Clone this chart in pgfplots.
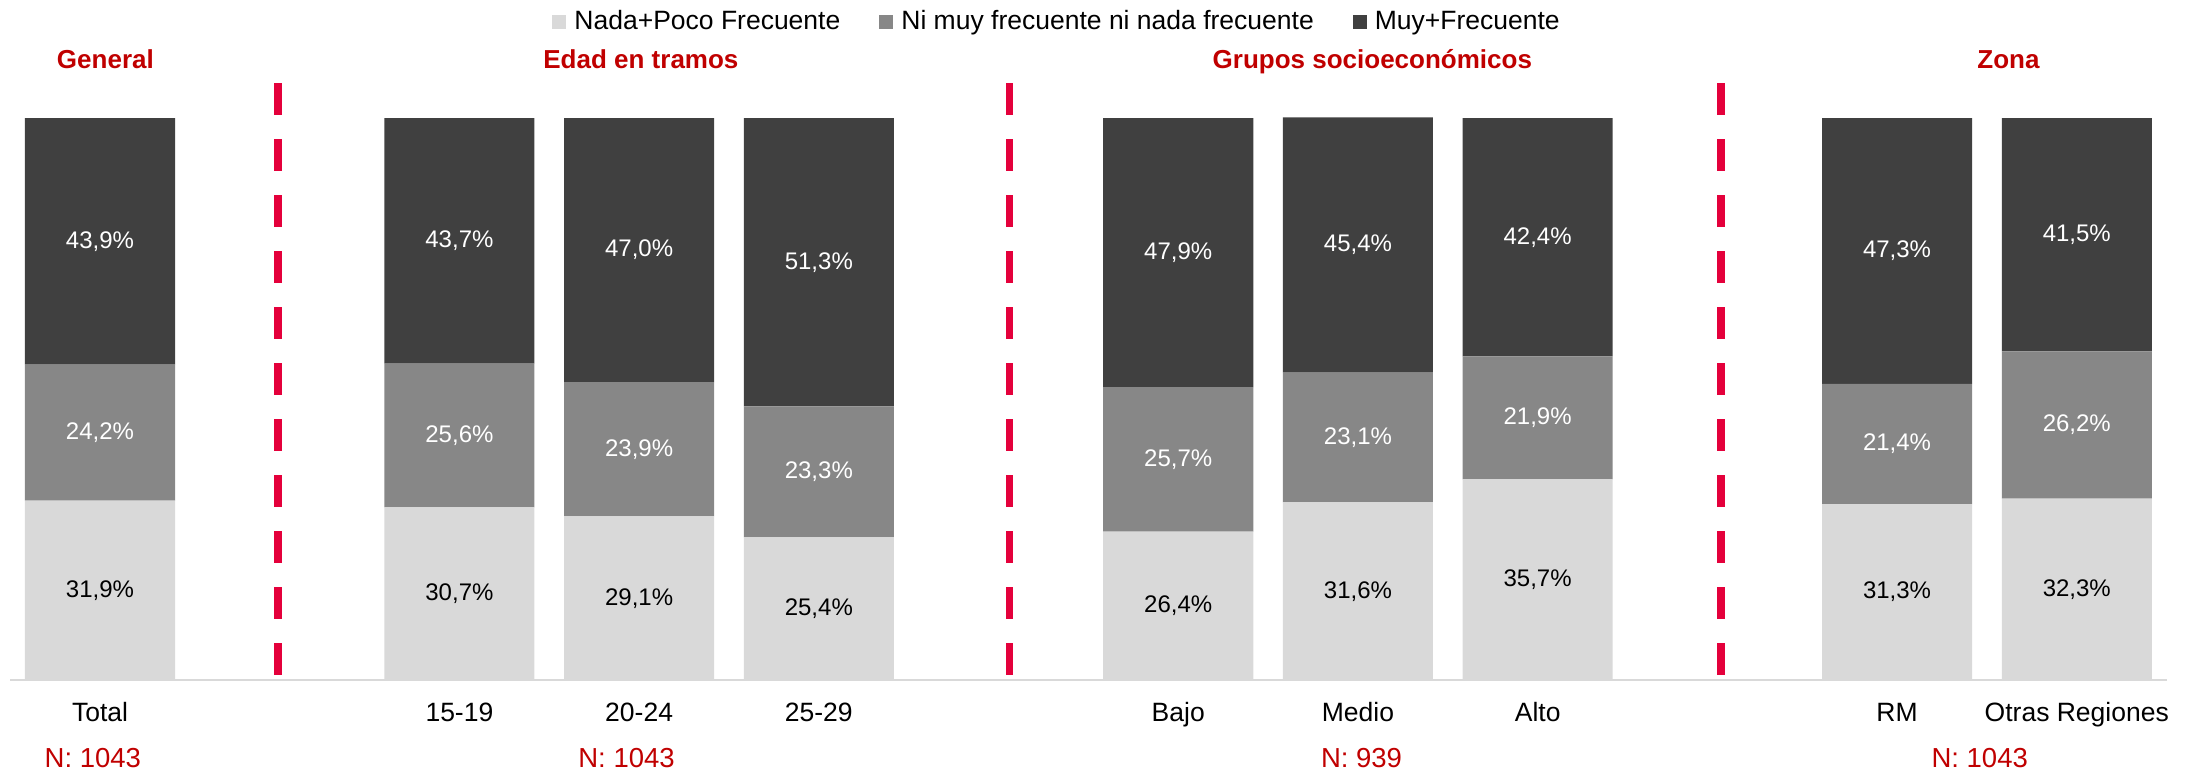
\documentclass[border=0pt]{standalone}
\usepackage{pgfplots}
\pgfplotsset{compat=1.18}
\usepackage{pgfplotstable}
\usepackage{fontspec}
\setmainfont{Liberation Sans}
\definecolor{cLight}{RGB}{217,217,217}
\definecolor{cMid}{RGB}{135,135,135}
\definecolor{cDark}{RGB}{64,64,64}
\definecolor{cRed}{RGB}{192,0,0}
\definecolor{cDash}{RGB}{228,0,59}
\pgfplotstableread{
x Nada Ni Muy
0 31.9 24.2 43.9
2 30.7 25.6 43.7
3 29.1 23.9 47.0
4 25.4 23.3 51.3
6 26.4 25.7 47.9
7 31.6 23.1 45.4
8 35.7 21.9 42.4
10 31.3 21.4 47.3
11 32.3 26.2 41.5
}\datatable
\begin{document}
\begin{tikzpicture}
\begin{axis}[
  x=71.88pt, y=2.248pt,
  xmin=-0.5, xmax=11.5, ymin=0, ymax=100,
  scale only axis,
  clip=false,
  axis line style={draw=none},
  ytick=\empty,
  xtick={0,2,3,4,6,7,8,10,11},
  xticklabels={Total,15-19,20-24,25-29,Bajo,Medio,Alto,RM,Otras Regiones},
  major tick length=0pt,
  xticklabel style={anchor=base, yshift=-16.7pt, font=\fontsize{10.6}{12}\selectfont},
  /pgf/number format/assume math mode=true,
  ybar stacked,
  bar width=0.835,
  point meta=rawy,
  nodes near coords={\pgfmathprintnumber[fixed,fixed zerofill,precision=1,use comma]{\pgfplotspointmeta}\%},
  every node near coord/.append style={anchor=center, font=\fontsize{9.6}{11}\selectfont},
  legend columns=-1,
  legend image code/.code={\path[#1,draw=none] (0pt,-2.8pt) rectangle (5.6pt,2.8pt);},
  legend style={at={(axis cs:5.33,117.1)}, anchor=center, draw=none, fill=none,
    font=\fontsize{10.6}{12}\selectfont, nodes={inner sep=1.5pt},
    /tikz/every odd column/.append style={column sep=1.8pt},
    /tikz/every even column/.append style={column sep=14pt}},
]
\addplot[fill=cLight, draw=none, every node near coord/.append style={text=black}] table[x=x, y=Nada] {\datatable};
\addlegendentry{Nada+Poco Frecuente}
\addplot[fill=cMid, draw=none, every node near coord/.append style={text=white}] table[x=x, y=Ni] {\datatable};
\addlegendentry{Ni muy frecuente ni nada frecuente}
\addplot[fill=cDark, draw=none, every node near coord/.append style={text=white}] table[x=x, y=Muy] {\datatable};
\addlegendentry{Muy+Frecuente}
\draw[cLight, line width=0.8pt] (axis cs:-0.5,0) -- (axis cs:11.5,0);
\draw[cDash, line width=3pt, dash pattern=on 12.8pt off 9.6pt] (axis cs:0.99,106.2) -- (axis cs:0.99,0.9);
\draw[cDash, line width=3pt, dash pattern=on 12.8pt off 9.6pt] (axis cs:5.06,106.2) -- (axis cs:5.06,0.9);
\draw[cDash, line width=3pt, dash pattern=on 12.8pt off 9.6pt] (axis cs:9.02,106.2) -- (axis cs:9.02,0.9);
\node[anchor=base, font=\bfseries\fontsize{10.4}{12}\selectfont, text=cRed, inner sep=0pt] at (axis cs:0.03,108.8) {General};
\node[anchor=base, font=\bfseries\fontsize{10.4}{12}\selectfont, text=cRed, inner sep=0pt] at (axis cs:3.01,108.8) {Edad en tramos};
\node[anchor=base, font=\bfseries\fontsize{10.4}{12}\selectfont, text=cRed, inner sep=0pt] at (axis cs:7.08,108.8) {Grupos socioeconómicos};
\node[anchor=base, font=\bfseries\fontsize{10.4}{12}\selectfont, text=cRed, inner sep=0pt] at (axis cs:10.62,108.8) {Zona};
\node[anchor=base, font=\fontsize{11}{13}\selectfont, text=cRed, inner sep=0pt] at (axis cs:-0.04,-15.48) {N: 1043};
\node[anchor=base, font=\fontsize{11}{13}\selectfont, text=cRed, inner sep=0pt] at (axis cs:2.93,-15.48) {N: 1043};
\node[anchor=base, font=\fontsize{11}{13}\selectfont, text=cRed, inner sep=0pt] at (axis cs:7.02,-15.48) {N: 939};
\node[anchor=base, font=\fontsize{11}{13}\selectfont, text=cRed, inner sep=0pt] at (axis cs:10.46,-15.48) {N: 1043};
\coordinate (BL) at (axis cs:-0.5565,-16.19);
\coordinate (TR) at (axis cs:11.658,121.0);
\end{axis}
\pgfresetboundingbox
\useasboundingbox (BL) rectangle (TR);
\end{tikzpicture}
\end{document}
